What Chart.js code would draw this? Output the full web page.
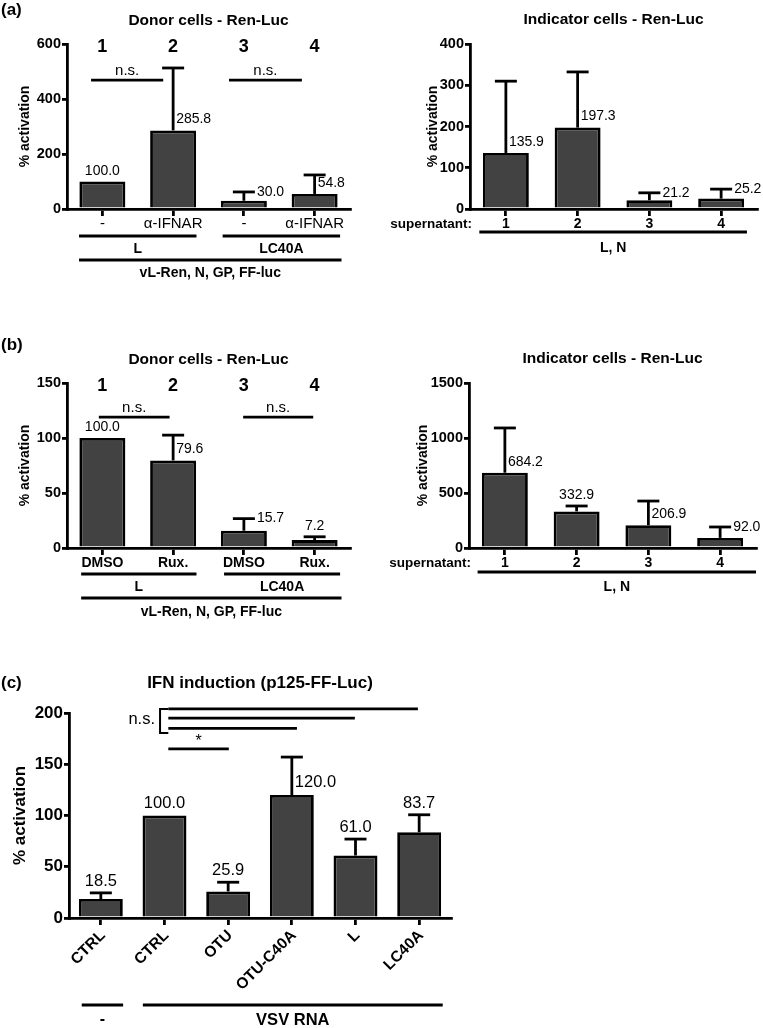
<!DOCTYPE html>
<html><head><meta charset="utf-8">
<script src="https://cdn.jsdelivr.net/npm/chart.js@4.4.0/dist/chart.umd.min.js"></script>
<style>
html,body{margin:0;padding:0;background:#fff;}
#wrap{position:relative;width:763px;height:1028px;overflow:hidden;background:#fff;}
canvas{position:absolute;left:0;top:0;}
</style></head><body><div id="wrap">
<canvas id="cA1" width="763" height="1028"></canvas>
<canvas id="cA2" width="763" height="1028"></canvas>
<canvas id="cB1" width="763" height="1028"></canvas>
<canvas id="cB2" width="763" height="1028"></canvas>
<canvas id="cC" width="763" height="1028"></canvas>
</div>
<script>
// ---------------- DATA ----------------
// (a) Donor cells
const aDonorCats = ['-', 'α-IFNAR', '-', 'α-IFNAR'];
const aDonorVals = [100.0, 285.8, 30.0, 54.8];
const aDonorErr  = [0, 227, 32, 69];
const aDonorTicks = [0, 200, 400, 600];
// (a) Indicator cells
const aIndCats = ['1', '2', '3', '4'];
const aIndVals = [135.9, 197.3, 21.2, 25.2];
const aIndErr  = [174, 135, 18, 23];
const aIndTicks = [0, 100, 200, 300, 400];
// (b) Donor cells
const bDonorCats = ['DMSO', 'Rux.', 'DMSO', 'Rux.'];
const bDonorVals = [100.0, 79.6, 15.7, 7.2];
const bDonorErr  = [0, 23, 11, 3];
const bDonorTicks = [0, 50, 100, 150];
// (b) Indicator cells
const bIndCats = ['1', '2', '3', '4'];
const bIndVals = [684.2, 332.9, 206.9, 92.0];
const bIndErr  = [407, 49, 220, 99];
const bIndTicks = [0, 500, 1000, 1500];
// (c) IFN induction
const cCats = ['CTRL', 'CTRL', 'OTU', 'OTU-C40A', 'L', 'LC40A'];
const cVals = [18.5, 100.0, 25.9, 120.0, 61.0, 83.7];
const cErr  = [6, 0, 9, 37, 16, 17];
const cTicks = [0, 50, 100, 150, 200];

// ---------------- STYLE ----------------
const FONT = '"Liberation Sans", Arial, Helvetica, sans-serif';
const BAR_FILL = '#424242';
const W = 763, H = 1028;
Chart.defaults.font.family = FONT;

function fnt(size, bold) { return (bold ? 'bold ' : '') + size + 'px ' + FONT; }
function txt(ctx, s, x, y, size, bold, align, base) {
  ctx.font = fnt(size, bold); ctx.fillStyle = '#000';
  ctx.textAlign = align || 'center'; ctx.textBaseline = base || 'middle';
  ctx.fillText(s, x, y);
}
function seg(ctx, x1, y1, x2, y2, w) {
  ctx.beginPath(); ctx.lineWidth = w || 2.5; ctx.strokeStyle = '#000';
  ctx.moveTo(x1, y1); ctx.lineTo(x2, y2); ctx.stroke();
}

function overlay(o) {
  return {
    id: 'ov',
    afterDatasetsDraw(chart) {
      const ctx = chart.ctx, ys = chart.scales.y;
      const meta = chart.getDatasetMeta(0);
      ctx.save();
      o.values.forEach((v, i) => {
        const e = o.errors[i]; if (!e) return;
        const b = meta.data[i];
        const y1 = ys.getPixelForValue(v + e);
        seg(ctx, b.x, b.y, b.x, y1, 2.8);
        seg(ctx, b.x - o.cap, y1, b.x + o.cap, y1, 2.8);
      });
      ctx.restore();
    },
    afterDraw(chart) {
      const ctx = chart.ctx, xs = chart.scales.x, ys = chart.scales.y, ca = chart.chartArea;
      const meta = chart.getDatasetMeta(0);
      const X = v => xs.getPixelForValue(v), Y = v => ys.getPixelForValue(v);
      ctx.save();
      // title
      txt(ctx, o.title, (ca.left + ca.right) / 2, ca.top - o.titleGap, o.titleSize, true);
      // y title
      ctx.save();
      ctx.translate(o.yTitleX, (ca.top + ca.bottom) / 2);
      ctx.rotate(-Math.PI / 2);
      txt(ctx, '% activation', 0, 0, o.yTitleSize, true);
      ctx.restore();
      // value labels
      o.values.forEach((v, i) => {
        const b = meta.data[i];
        const s = v.toFixed(1);
        const top = Y(v), eTop = Y(v + (o.errors[i] || 0));
        const mode = o.labelPos[i];
        if (mode === 'top') txt(ctx, s, b.x, Math.min(top, eTop) - (o.valSize * 0.5 + 3.5), o.valSize, false);
        else if (mode === 'right') txt(ctx, s, b.x + 3, top - (o.valSize * 0.5 + 4), o.valSize, false, 'left');
        else txt(ctx, s, b.x + 13, eTop, o.valSize, false, 'left');
      });
      // top numbers
      if (o.topNums) o.topNums.forEach((s, i) => txt(ctx, s, X(i), ca.top + 3, 18, true));
      // significance lines
      (o.sig || []).forEach(s => {
        const y = Y(s.y);
        seg(ctx, X(s.x1), y, X(s.x2), y, 2.8);
        if (s.text) txt(ctx, s.text, (X(s.x1) + X(s.x2)) / 2, y - s.tgap, s.tsize, false);
      });
      // bracket
      if (o.bracket) {
        const bk = o.bracket, bx = X(bk.x), ex = X(bk.xe);
        const y1 = Y(bk.y1), y2 = Y(bk.y2);
        ctx.beginPath(); ctx.lineWidth = 2; ctx.strokeStyle = '#000';
        ctx.moveTo(ex, y1); ctx.lineTo(bx, y1); ctx.lineTo(bx, y2); ctx.lineTo(ex, y2); ctx.stroke();
        txt(ctx, bk.text, bx - 5, Y(bk.ty), bk.tsize, false, 'right');
      }
      // category labels under the axis
      if (o.catRow) {
        o.cats.forEach((s, i) => txt(ctx, s, X(i), ca.bottom + o.catRow.dy, o.catRow.size, o.catRow.bold));
        if (o.catRow.lead) txt(ctx, o.catRow.lead, ca.left + 2, ca.bottom + o.catRow.dy, 13.5, true, 'right');
      }
      if (o.rotCats) {
        o.cats.forEach((s, i) => {
          ctx.save();
          ctx.translate(X(i) + 2, ca.bottom + 15);
          ctx.rotate(-Math.PI / 4);
          txt(ctx, s, 0, 0, 15.5, true, 'right');
          ctx.restore();
        });
      }
      // group lines
      (o.groups || []).forEach(g => {
        const y = ca.bottom + g.dy;
        seg(ctx, X(g.x1), y, X(g.x2), y, 2.8);
        txt(ctx, g.text, (X(g.x1) + X(g.x2)) / 2, y + g.tdy, g.tsize, true);
      });
      ctx.restore();
    }
  };
}

function build(id, o) {
  const yW = 45, xH = 8;
  const ticksArr = o.ticks;
  return new Chart(document.getElementById(id), {
    type: 'bar',
    data: { labels: o.cats, datasets: [{
      data: o.values, backgroundColor: BAR_FILL, borderColor: '#000', borderWidth: 2.8,
      borderSkipped: 'bottom', categoryPercentage: 1, barPercentage: o.barPct }] },
    options: {
      responsive: false, animation: false, events: [],
      layout: { padding: { left: o.area.left - yW, right: W - o.area.right, top: o.area.top, bottom: H - o.area.bottom - xH } },
      plugins: { legend: { display: false }, tooltip: { enabled: false }, title: { display: false } },
      scales: {
        x: {
          type: 'category', offset: true, z: 1,
          grid: { display: true, drawOnChartArea: false, drawTicks: true, tickLength: 7, offset: false, color: '#000', lineWidth: 2.8 },
          border: { display: true, color: '#000', width: 2.8 },
          ticks: { display: false },
          afterFit: s => { s.height = xH; }
        },
        y: {
          min: 0, max: ticksArr[ticksArr.length - 1], z: 1,
          grid: { display: true, drawOnChartArea: false, drawTicks: true, tickLength: 5, color: '#000', lineWidth: 2.8 },
          border: { display: true, color: '#000', width: 2.8 },
          ticks: { color: '#000', padding: 1, font: { family: FONT, size: o.tickSize, weight: 'bold' },
                   callback: v => String(v) },
          afterBuildTicks: s => { s.ticks = ticksArr.map(v => ({ value: v })); },
          afterFit: s => { s.width = yW; }
        }
      }
    },
    plugins: [overlay(o)]
  });
}

// (a) left
build('cA1', {
  cats: aDonorCats, values: aDonorVals, errors: aDonorErr, ticks: aDonorTicks,
  area: { left: 67, right: 350, top: 44, bottom: 209 }, barPct: 0.65, cap: 11,
  title: 'Donor cells - Ren-Luc', titleGap: 23, titleSize: 15.5, yTitleX: 25, yTitleSize: 14,
  tickSize: 14.5, valSize: 14, labelPos: ['top', 'right', 'cap', 'right'],
  topNums: ['1', '2', '3', '4'],
  sig: [{ x1: -0.16, x2: 0.86, y: 469, text: 'n.s.', tgap: 9, tsize: 15 },
        { x1: 1.79, x2: 2.82, y: 469, text: 'n.s.', tgap: 9, tsize: 15 }],
  catRow: { dy: 15, size: 15, bold: false },
  groups: [{ x1: -0.33, x2: 1.33, dy: 27, text: 'L', tdy: 13, tsize: 14 },
           { x1: 1.70, x2: 3.36, dy: 27, text: 'LC40A', tdy: 13, tsize: 14 },
           { x1: -0.33, x2: 3.38, dy: 51, text: 'vL-Ren, N, GP, FF-luc', tdy: 13, tsize: 14 }]
});
// (a) right
build('cA2', {
  cats: aIndCats, values: aIndVals, errors: aIndErr, ticks: aIndTicks,
  area: { left: 470, right: 757, top: 44, bottom: 209 }, barPct: 0.64, cap: 11,
  title: 'Indicator cells - Ren-Luc', titleGap: 24, titleSize: 15.5, yTitleX: 433, yTitleSize: 14,
  tickSize: 14.5, valSize: 14, labelPos: ['right', 'right', 'cap', 'cap'],
  catRow: { dy: 15, size: 14, bold: true, lead: 'supernatant:' },
  groups: [{ x1: -0.37, x2: 3.36, dy: 23, text: 'L, N', tdy: 16, tsize: 14 }]
});
// (b) left
build('cB1', {
  cats: bDonorCats, values: bDonorVals, errors: bDonorErr, ticks: bDonorTicks,
  area: { left: 67, right: 350, top: 383, bottom: 548 }, barPct: 0.65, cap: 11,
  title: 'Donor cells - Ren-Luc', titleGap: 23, titleSize: 15.5, yTitleX: 25, yTitleSize: 14,
  tickSize: 14.5, valSize: 14, labelPos: ['top', 'right', 'cap', 'top'],
  topNums: ['1', '2', '3', '4'],
  sig: [{ x1: -0.05, x2: 0.95, y: 119, text: 'n.s.', tgap: 9, tsize: 15 },
        { x1: 1.99, x2: 2.98, y: 119, text: 'n.s.', tgap: 9, tsize: 15 }],
  catRow: { dy: 15, size: 14, bold: true },
  groups: [{ x1: -0.3, x2: 1.33, dy: 26, text: 'L', tdy: 13, tsize: 14 },
           { x1: 1.72, x2: 3.36, dy: 26, text: 'LC40A', tdy: 13, tsize: 14 },
           { x1: -0.3, x2: 3.38, dy: 50, text: 'vL-Ren, N, GP, FF-luc', tdy: 14, tsize: 14 }]
});
// (b) right
build('cB2', {
  cats: bIndCats, values: bIndVals, errors: bIndErr, ticks: bIndTicks,
  area: { left: 469, right: 756, top: 383, bottom: 548 }, barPct: 0.64, cap: 11,
  title: 'Indicator cells - Ren-Luc', titleGap: 24, titleSize: 15.5, yTitleX: 423, yTitleSize: 14,
  tickSize: 14.5, valSize: 14, labelPos: ['right', 'top', 'right', 'cap'],
  catRow: { dy: 15, size: 14, bold: true, lead: 'supernatant:' },
  groups: [{ x1: -0.38, x2: 3.5, dy: 24, text: 'L, N', tdy: 15, tsize: 14 }]
});
// (c)
build('cC', {
  cats: cCats, values: cVals, errors: cErr, ticks: cTicks,
  area: { left: 69, right: 451, top: 713, bottom: 918 }, barPct: 0.69, cap: 11,
  title: 'IFN induction (p125-FF-Luc)', titleGap: 30, titleSize: 17, yTitleX: 20, yTitleSize: 17,
  tickSize: 17, valSize: 16.5, labelPos: ['top', 'top', 'top', 'right', 'top', 'top'],
  sig: [{ x1: 1.06, x2: 4.98, y: 204 }, { x1: 1.06, x2: 3.99, y: 195 }, { x1: 1.06, x2: 3.08, y: 185 },
        { x1: 1.06, x2: 2.01, y: 165, text: '*', tgap: 7, tsize: 16 }],
  bracket: { x: 0.93, xe: 1.06, y1: 204, y2: 180.5, ty: 194, text: 'n.s.', tsize: 16.5 },
  rotCats: true,
  groups: [{ x1: -0.3, x2: 0.35, dy: 87, text: '-', tdy: 15, tsize: 16 },
           { x1: 0.66, x2: 5.37, dy: 87, text: 'VSV RNA', tdy: 15, tsize: 16.5 }]
});

// panel letters
(function () {
  const cv = document.getElementById('cC'); const ctx = cv.getContext('2d');
  txt(ctx, '(a)', 1, 10, 17, true, 'left');
  txt(ctx, '(b)', 1, 345, 17, true, 'left');
  txt(ctx, '(c)', 1, 683, 17, true, 'left');
})();
</script>
</body></html>
